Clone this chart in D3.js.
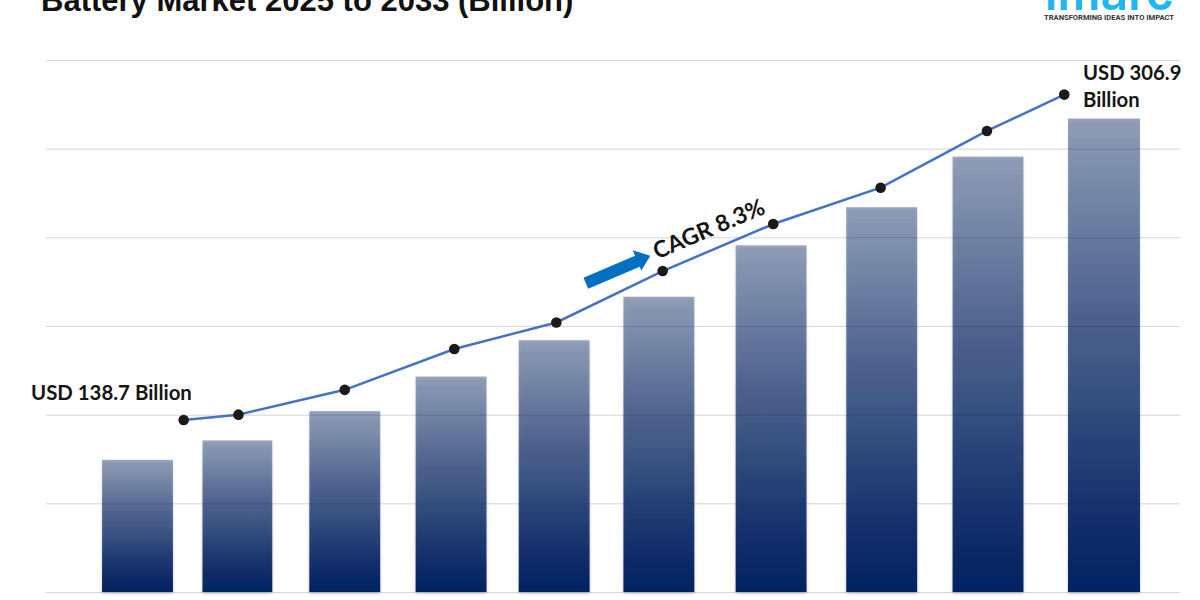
<!DOCTYPE html>
<html>
<head>
<meta charset="utf-8">
<script src="https://cdnjs.cloudflare.com/ajax/libs/d3/7.8.5/d3.min.js"></script>
<style>
  html, body { margin: 0; padding: 0; background: #fff; overflow: hidden; }
  text { font-family: Lato, "Open Sans", sans-serif; font-weight: 700; fill: #151515; }
</style>
</head>
<body>
<div class="chart"></div>
<script>
// position = slot on the x scale (slots are not evenly spaced in the original)
var data = [
  {position: 0.00, width: 0.66, bar: 149, linePosition: 0.43, line: 194},
  {position: 0.93, width: 0.65, bar: 171, linePosition: 0.94, line: 200},
  {position: 1.93, width: 0.66, bar: 204, linePosition: 1.93, line: 228},
  {position: 2.92, width: 0.66, bar: 243, linePosition: 2.95, line: 274},
  {position: 3.88, width: 0.66, bar: 284, linePosition: 3.90, line: 304},
  {position: 4.855, width: 0.66, bar: 333, linePosition: 4.89, line: 362},
  {position: 5.90, width: 0.66, bar: 391, linePosition: 5.92, line: 415},
  {position: 6.93, width: 0.66, bar: 434, linePosition: 6.92, line: 456},
  {position: 7.92, width: 0.66, bar: 491, linePosition: 7.91, line: 520},
  {position: 9.00, width: 0.67, bar: 534, linePosition: 8.63, line: 561}
];

var svg = d3.select('.chart')
  .append('svg')
  .attr('width', 1200)
  .attr('height', 600);

var x = d3.scaleLinear().domain([0, 9]).range([137.5, 1104]);
var y = d3.scaleLinear().domain([0, 600]).range([592, 60]);

var defs = svg.append('defs');
var grad = defs.append('linearGradient')
  .attr('id', 'barFill').attr('x1', 0).attr('y1', 0).attr('x2', 0).attr('y2', 1);
grad.append('stop').attr('offset', '0%').attr('stop-color', '#002060').attr('stop-opacity', 0.38);
grad.append('stop').attr('offset', '100%').attr('stop-color', '#002060').attr('stop-opacity', 1);

var shadow = defs.append('filter').attr('id', 'barShadow')
  .attr('x', '-10%').attr('y', '-5%').attr('width', '120%').attr('height', '112%');
shadow.append('feDropShadow')
  .attr('dx', 0).attr('dy', 1.5).attr('stdDeviation', 1.5)
  .attr('flood-color', '#000').attr('flood-opacity', 0.25);

// grid
var axis = d3.axisLeft(y).tickValues(d3.range(0, 601, 100)).tickSize(-1134).tickFormat('');
var gridG = svg.append('g').attr('transform', 'translate(46,0)').call(axis);
gridG.select('.domain').remove();
gridG.selectAll('line').attr('stroke', '#d4d4d4').attr('stroke-width', 1);

// bars
svg.selectAll('rect.bar')
  .data(data)
  .enter().append('rect')
  .attr('class', 'bar')
  .attr('x', function (d) { return x(d.position - d.width / 2); })
  .attr('width', function (d) { return x(d.width) - x(0); })
  .attr('y', function (d) { return y(d.bar); })
  .attr('height', function (d) { return y(0) - y(d.bar); })
  .style('fill', 'url(#barFill)')
  .attr('filter', 'url(#barShadow)');

// line + dots
var line = d3.line()
  .x(function (d) { return x(d.linePosition); })
  .y(function (d) { return y(d.line); });

svg.append('path')
  .datum(data)
  .attr('d', line)
  .attr('fill', 'none')
  .attr('stroke', '#4472c4')
  .attr('stroke-width', 2.5);

svg.selectAll('circle.dot')
  .data(data)
  .enter().append('circle')
  .attr('class', 'dot')
  .attr('cx', function (d) { return x(d.linePosition); })
  .attr('cy', function (d) { return y(d.line); })
  .attr('r', 5.3)
  .style('fill', '#1a1a1a');

// title, cut off by the top edge like the source image
svg.append('text')
  .attr('x', 41).attr('y', 11)
  .style('font-family', '"Liberation Sans", Arial, sans-serif')
  .style('font-size', '31px')
  .style('fill', '#111')
  .text('Battery Market 2025 to 2033 (Billion)');

// logo
svg.append('text')
  .attr('x', 1045).attr('y', 10)
  .style('font-family', 'Inter, Roboto, sans-serif')
  .style('font-size', '50px')
  .style('font-weight', 600)
  .style('fill', '#1fb6f2')
  .attr('textLength', 129)
  .attr('lengthAdjust', 'spacingAndGlyphs')
  .text('imarc');
svg.append('text')
  .attr('x', 1044).attr('y', 20)
  .style('font-family', 'Roboto, sans-serif')
  .style('font-size', '7px')
  .style('fill', '#333')
  .attr('textLength', 130)
  .attr('lengthAdjust', 'spacingAndGlyphs')
  .text('TRANSFORMING IDEAS INTO IMPACT');

// value labels
svg.append('text').attr('x', 31).attr('y', 400).style('font-size', '20.4px').text('USD 138.7 Billion');
svg.append('text').attr('x', 1083).attr('y', 80).style('font-size', '20.3px').text('USD 306.9');
svg.append('text').attr('x', 1083).attr('y', 107).style('font-size', '20.3px').text('Billion');

// CAGR arrow and label
var cagr = svg.append('g').attr('transform', 'translate(584,284) rotate(-23)');
cagr.append('path')
  .attr('d', 'M2,-6 H58 V-12 L72,0 L58,10 V6 H2 Z')
  .style('fill', '#0070c0');
cagr.append('text')
  .attr('x', 77).attr('y', 6)
  .style('font-size', '23px')
  .text('CAGR 8.3%');
</script>
</body>
</html>
